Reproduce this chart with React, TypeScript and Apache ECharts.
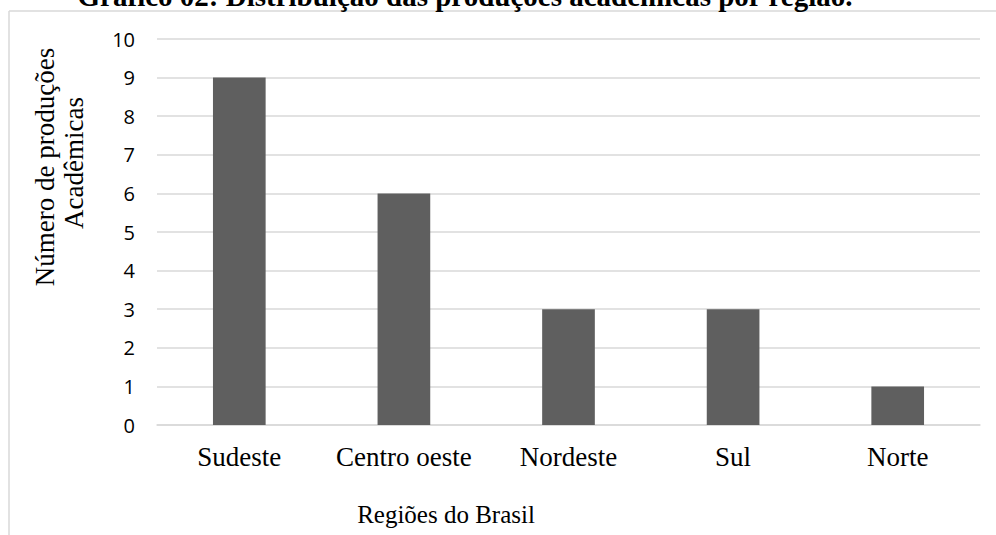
import React, { useEffect, useRef } from "react";
import * as echarts from "echarts";

const categories = ["Sudeste", "Centro oeste", "Nordeste", "Sul", "Norte"];
const values = [9, 6, 3, 3, 1];
const yMin = 0;
const yMax = 10;
const yStep = 1;
const titleText = "Gráfico 02: Distribuição das produções acadêmicas por região.";
const xAxisTitle = "Regiões do Brasil";
const yAxisTitleLines = ["Número de produções", "Acadêmicas"];

export default function App() {
  const ref = useRef<HTMLDivElement>(null);
  useEffect(() => {
    if (!ref.current) return;
    const chart = echarts.init(ref.current, null, { renderer: "svg" });
    chart.setOption({
      animation: false,
      backgroundColor: "#ffffff",
      grid: { left: 157, right: 16, top: 39, bottom: 110, containLabel: false },
      xAxis: {
        type: "category",
        data: categories,
        axisLine: { show: true, lineStyle: { color: "#d9d9d9", width: 1.5 } },
        axisTick: { show: false },
        axisLabel: {
          interval: 0,
          color: "#000",
          fontFamily: "Liberation Serif",
          fontSize: 27,
          margin: 18,
        },
      },
      yAxis: {
        type: "value",
        min: yMin,
        max: yMax,
        interval: yStep,
        axisLine: { show: false },
        axisTick: { show: false },
        splitLine: { lineStyle: { color: "#d9d9d9", width: 1.5 } },
        axisLabel: {
          color: "#000",
          fontFamily: "Open Sans",
          fontSize: 20,
          margin: 22,
        },
      },
      series: [
        {
          type: "bar",
          data: values,
          barWidth: "32%",
          itemStyle: { color: "#5f5f5f" },
        },
      ],
      graphic: [
        {
          type: "line",
          shape: { x1: 9, y1: 11, x2: 996, y2: 11 },
          style: { stroke: "#d9d9d9", lineWidth: 1.5 },
          silent: true,
        },
        {
          type: "line",
          shape: { x1: 9, y1: 11, x2: 9, y2: 535 },
          style: { stroke: "#d9d9d9", lineWidth: 1.5 },
          silent: true,
        },
        {
          type: "text",
          x: 465,
          y: -4,
          style: {
            text: titleText,
            fill: "#000",
            font: "bold 29px 'Liberation Serif'",
            textAlign: "center",
            textVerticalAlign: "middle",
          },
        },
        {
          type: "text",
          x: 446,
          y: 514,
          style: {
            text: xAxisTitle,
            fill: "#000",
            font: "25px 'Liberation Serif'",
            textAlign: "center",
            textVerticalAlign: "middle",
          },
        },
        {
          type: "text",
          x: 45,
          y: 167,
          rotation: Math.PI / 2,
          style: {
            text: yAxisTitleLines[0],
            fill: "#000",
            font: "27px 'Liberation Serif'",
            textAlign: "center",
            textVerticalAlign: "middle",
          },
        },
        {
          type: "text",
          x: 74,
          y: 163,
          rotation: Math.PI / 2,
          style: {
            text: yAxisTitleLines[1],
            fill: "#000",
            font: "27px 'Liberation Serif'",
            textAlign: "center",
            textVerticalAlign: "middle",
          },
        },
      ],
    });
    return () => chart.dispose();
  }, []);
  return (
    <div
      ref={ref}
      style={{ position: "fixed", left: 0, top: 0, width: 996, height: 535 }}
    />
  );
}
